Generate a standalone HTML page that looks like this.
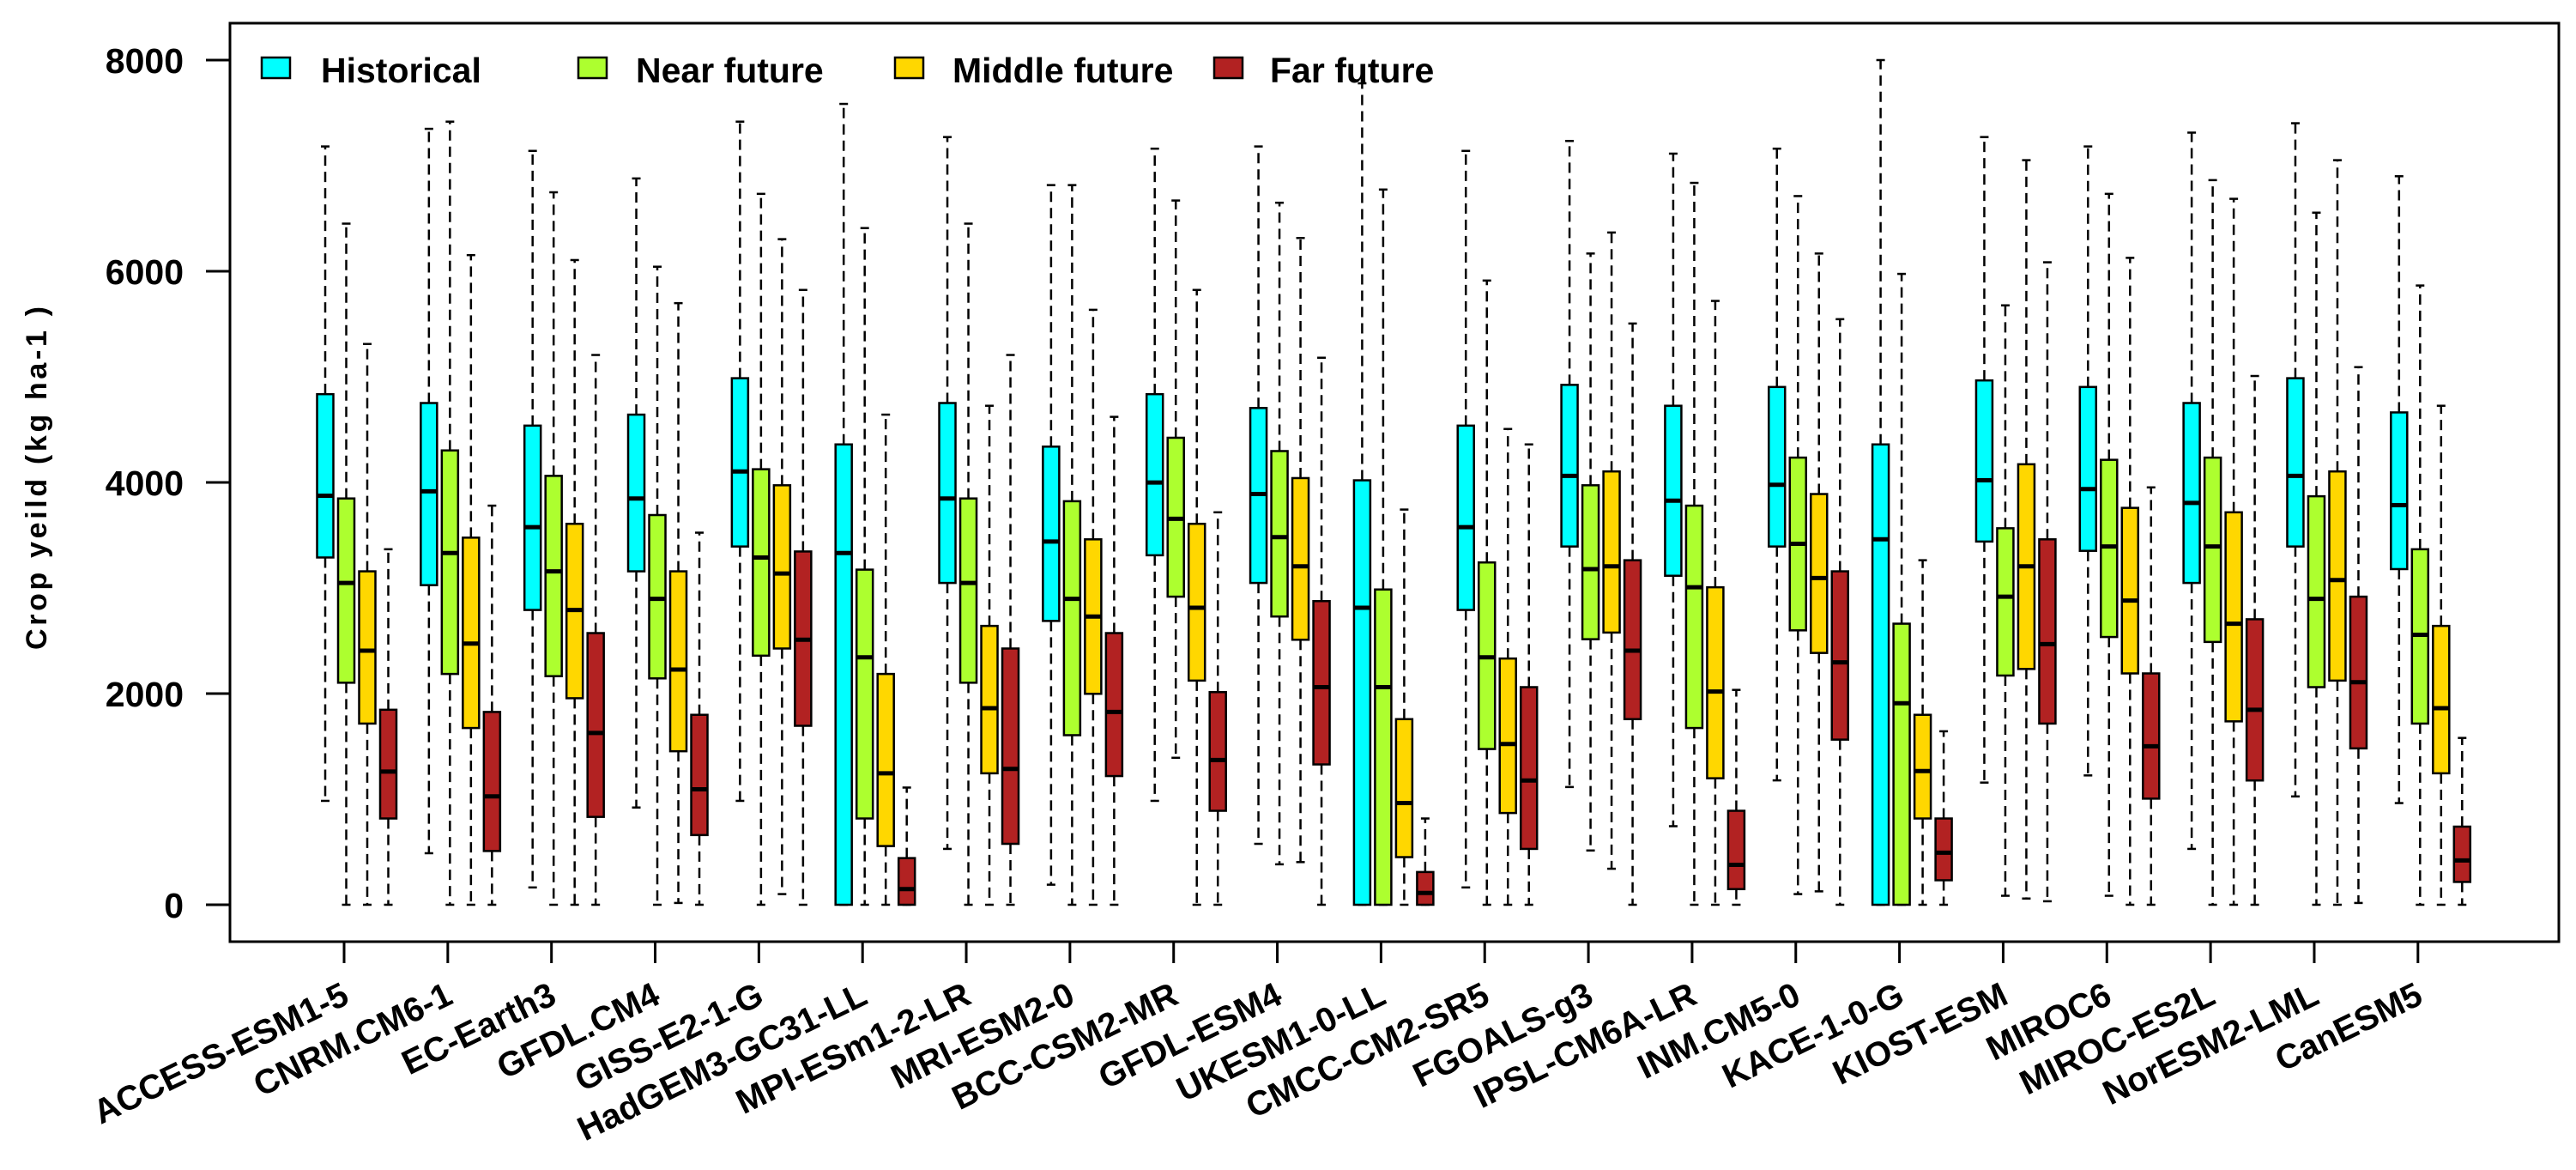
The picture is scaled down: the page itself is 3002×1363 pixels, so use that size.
<!DOCTYPE html>
<html><head><meta charset="utf-8"><style>
html,body{margin:0;padding:0;background:#fff;}
svg{display:block;font-family:"Liberation Sans",Arial,sans-serif;}
</style></head><body>
<svg id="chart" width="3002" height="1363" viewBox="0 0 3002 1363" xmlns="http://www.w3.org/2000/svg">
<rect x="0" y="0" width="3002" height="1363" fill="#fff"/>
<g id="marks"></g>
<rect x="268" y="27" width="2714" height="1070" fill="none" stroke="#000" stroke-width="3"/>
<g id="axes"></g>
<text transform="translate(54,557) rotate(-90)" text-anchor="middle" font-size="34" font-weight="bold" textLength="400" lengthAdjust="spacing">Crop yeild (kg ha-1 )</text>
<g>
<rect x="305" y="67" width="33" height="24" fill="#00FFFF" stroke="#000" stroke-width="2.5"/>
<text x="374" y="96" font-size="41" font-weight="bold">Historical</text>
<rect x="674" y="67" width="33" height="24" fill="#ADFF2F" stroke="#000" stroke-width="2.5"/>
<text x="741" y="96" font-size="41" font-weight="bold">Near future</text>
<rect x="1043" y="67" width="33" height="24" fill="#FFD700" stroke="#000" stroke-width="2.5"/>
<text x="1110" y="96" font-size="41" font-weight="bold">Middle future</text>
<rect x="1415" y="67" width="33" height="24" fill="#B22222" stroke="#000" stroke-width="2.5"/>
<text x="1480" y="96" font-size="41" font-weight="bold">Far future</text>
</g>
</svg>
<script>
const models = ["ACCESS-ESM1-5","CNRM.CM6-1","EC-Earth3","GFDL.CM4","GISS-E2-1-G","HadGEM3-GC31-LL","MPI-ESm1-2-LR","MRI-ESM2-0","BCC-CSM2-MR","GFDL-ESM4","UKESM1-0-LL","CMCC-CM2-SR5","FGOALS-g3","IPSL-CM6A-LR","INM.CM5-0","KACE-1-0-G","KIOST-ESM","MIROC6","MIROC-ES2L","NorESM2-LML","CanESM5"];
// each entry: [lower whisker, Q1, median, Q3, upper whisker]
const historical = [[984,3289,3874,4836,7182],[488,3027,3916,4752,7349],[164,2792,3576,4538,7140],[921,3158,3848,4642,6879],[984,3393,4104,4987,7417],[0,0,3331,4360,7585],[529,3048,3848,4752,7271],[190,2688,3440,4339,6816],[984,3310,3999,4836,7161],[577,3048,3890,4705,7182],[0,0,2813,4020,7780],[164,2792,3576,4538,7140],[1115,3393,4062,4924,7234],[744,3116,3827,4726,7114],[1178,3393,3978,4904,7161],[0,0,3461,4360,8000],[1157,3440,4020,4966,7271],[1225,3352,3937,4904,7182],[529,3048,3806,4752,7313],[1026,3393,4062,4987,7402],[963,3179,3785,4663,6900]];
const nearFuture = [[0,2103,3048,3848,6451],[0,2186,3331,4303,7417],[0,2165,3158,4062,6748],[0,2144,2897,3691,6043],[0,2359,3289,4125,6733],[0,817,2343,3174,6409],[0,2103,3048,3848,6451],[0,1606,2897,3822,6816],[1392,2918,3655,4423,6670],[383,2730,3482,4297,6649],[0,0,2061,2986,6774],[0,1475,2343,3242,5912],[514,2515,3179,3973,6168],[0,1674,3007,3780,6837],[101,2599,3419,4235,6712],[0,0,1909,2662,5975],[85,2171,2918,3566,5677],[85,2536,3393,4214,6733],[0,2489,3393,4235,6863],[0,2061,2897,3869,6555],[0,1716,2557,3367,5865]];
const middleFuture = [[0,1716,2406,3158,5311],[0,1674,2474,3477,6153],[0,1956,2792,3608,6106],[17,1454,2228,3158,5698],[101,2427,3137,3973,6304],[0,556,1245,2186,4642],[0,1245,1862,2641,4726],[0,1998,2730,3461,5635],[0,2123,2813,3608,5823],[404,2510,3205,4041,6315],[0,451,963,1758,3743],[0,869,1522,2332,4506],[341,2578,3205,4104,6367],[0,1198,2019,3007,5719],[127,2385,3095,3890,6168],[0,817,1266,1799,3263],[59,2233,3205,4172,7052],[0,2191,2881,3759,6127],[0,1737,2662,3717,6686],[0,2123,3075,4104,7052],[0,1245,1862,2641,4726]];
const farFuture = [[0,817,1261,1847,3367],[0,509,1026,1826,3780],[0,832,1627,2573,5207],[0,660,1094,1799,3524],[0,1695,2510,3346,5823],[0,0,148,442,1110],[0,577,1287,2427,5207],[0,1219,1826,2573,4621],[0,890,1371,2014,3717],[0,1329,2061,2876,5181],[0,0,112,310,817],[0,529,1177,2061,4360],[0,1758,2406,3263,5505],[0,148,378,890,2035],[0,1564,2296,3158,5546],[0,232,493,817,1643],[33,1716,2468,3461,6085],[0,1005,1501,2191,3953],[0,1177,1847,2704,5008],[17,1481,2108,2918,5092],[0,216,420,740,1580]];
const seriesNames = ["historical","near-future","middle-future","far-future"];
const seriesColors = ["#00FFFF","#ADFF2F","#FFD700","#B22222"];
const yTicks = [0,2000,4000,6000,8000];

const NS = "http://www.w3.org/2000/svg";
function yScale(v){ return 1054 - v * 0.123; }
function groupX(i){ return 379 + i * 120.84; }
function boxX(i, s){ return groupX(i) + s * 24.5; }
function mk(tag, attrs, parent){
  const el = document.createElementNS(NS, tag);
  for (const k in attrs) el.setAttribute(k, attrs[k]);
  parent.appendChild(el);
  return el;
}
const marks = document.getElementById("marks");
const axes = document.getElementById("axes");
const allSeries = [historical, nearFuture, middleFuture, farFuture];
const BW = 19;
allSeries.forEach((series, s) => {
  series.forEach((d, i) => {
    const cx = boxX(i, s);
    const g = mk("g", {}, marks);
    
    
    const [lo, q1, med, q3, hi] = d;
    const wTop = mk("line", {x1:cx, x2:cx, y1:yScale(q3), y2:yScale(hi), stroke:"#000", "stroke-width":2.5, "stroke-dasharray":"12,7"}, g);
    
    
    const wBot = mk("line", {x1:cx, x2:cx, y1:yScale(q1), y2:yScale(lo), stroke:"#000", "stroke-width":2.5, "stroke-dasharray":"12,7"}, g);
    
    
    const capT = mk("line", {x1:cx-5, x2:cx+5, y1:yScale(hi), y2:yScale(hi), stroke:"#000", "stroke-width":2.5}, g);
    
    
    const capB = mk("line", {x1:cx-5, x2:cx+5, y1:yScale(lo), y2:yScale(lo), stroke:"#000", "stroke-width":2.5}, g);
    
    
    const r = mk("rect", {x:cx-BW/2, y:yScale(q3), width:BW, height:Math.max(0.5, yScale(q1)-yScale(q3)), fill:seriesColors[s], stroke:"#000", "stroke-width":2.5}, g);
    
    
    const m = mk("line", {x1:cx-BW/2, x2:cx+BW/2, y1:yScale(med), y2:yScale(med), stroke:"#000", "stroke-width":5}, g);
    
    
  });
});
yTicks.forEach(v => {
  const y = yScale(v);
  const t = mk("line", {x1:240, x2:268, y1:y, y2:y, stroke:"#000", "stroke-width":3}, axes);
  
  
  const l = mk("text", {x:214, y:y+15, "text-anchor":"end", "font-size":41, "font-weight":"bold"}, axes);
  l.textContent = String(v);
  
  
});
models.forEach((name, i) => {
  const x = groupX(i) + 22;
  const t = mk("line", {x1:x, x2:x, y1:1097, y2:1122, stroke:"#000", "stroke-width":3}, axes);
  
  
  const l = mk("text", {transform:"translate(" + (x+8) + ",1168) rotate(-26)", "text-anchor":"end", "font-size":40, "font-weight":"bold"}, axes);
  l.textContent = name;
  
  
});
</script>
</body></html>
